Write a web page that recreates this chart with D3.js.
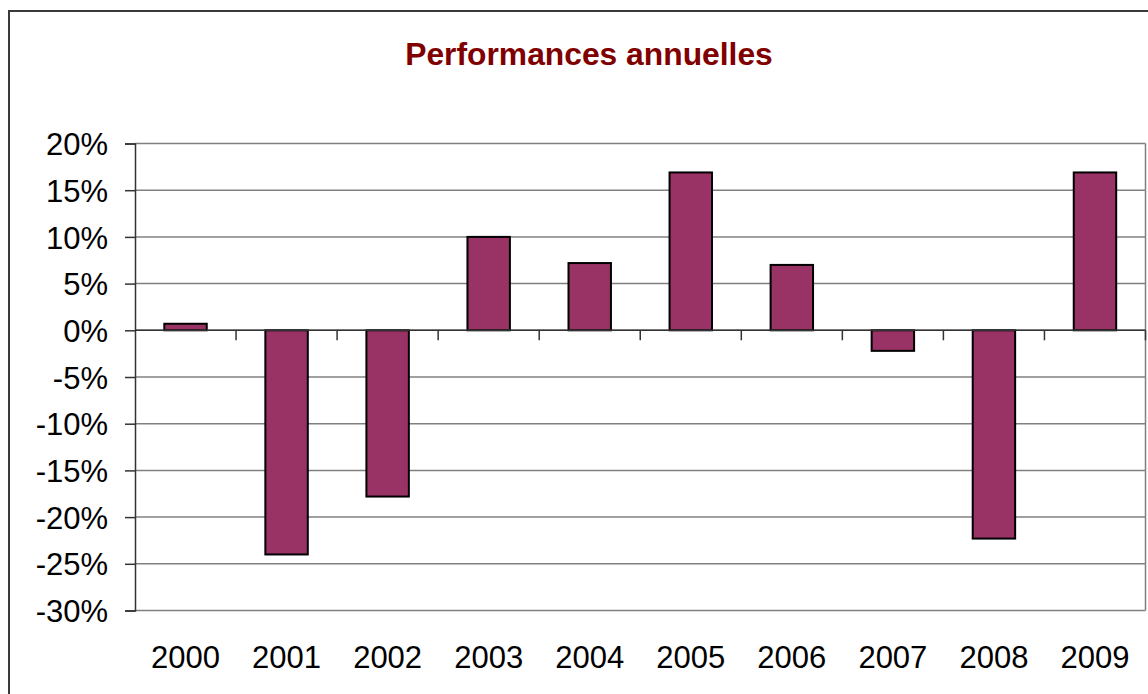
<!DOCTYPE html>
<html>
<head>
<meta charset="utf-8">
<script src="https://cdn.jsdelivr.net/npm/d3@7"></script>
<style>
  body { margin: 0; background: #fff; }
  svg { display: block; }
</style>
</head>
<body>
<div id="chart-area"></div>
<script>
// data
let years = ["2000", "2001", "2002", "2003", "2004", "2005", "2006", "2007", "2008", "2009"];
let perf = [0.007, -0.240, -0.178, 0.100, 0.072, 0.169, 0.070, -0.022, -0.223, 0.169];
let yTicks = [0.20, 0.15, 0.10, 0.05, 0, -0.05, -0.10, -0.15, -0.20, -0.25, -0.30];

let width = 1148,
    height = 694;

let svg = d3.select("#chart-area").append("svg")
    .attr("width", width)
    .attr("height", height);

// outer chart frame (runs off the right and bottom edges)
svg.append("rect")
    .attr("x", 9)
    .attr("y", 11)
    .attr("width", 1200)
    .attr("height", 750)
    .attr("fill", "none")
    .attr("stroke", "#3a3a3a")
    .attr("stroke-width", 2);

// title
svg.append("text")
    .attr("x", 589)
    .attr("y", 65)
    .attr("text-anchor", "middle")
    .attr("font-family", "Liberation Sans, Arial, sans-serif")
    .attr("font-size", 31.8)
    .attr("font-weight", "bold")
    .attr("fill", "#800000")
    .text("Performances annuelles");

let plotLeft = 135, plotRight = 1145.5, plotTop = 143.5, plotBottom = 610.5;

let x = d3.scaleBand()
    .domain(years)
    .range([plotLeft, plotRight])
    .paddingInner(0.58)
    .paddingOuter(0.29);

let y = d3.scaleLinear()
    .domain([-0.30, 0.20])
    .range([plotBottom, plotTop]);

// gridlines
svg.append("g")
  .selectAll("line")
  .data(yTicks)
  .enter().append("line")
    .attr("x1", plotLeft)
    .attr("x2", plotRight)
    .attr("y1", d => y(d))
    .attr("y2", d => y(d))
    .attr("stroke", "#808080")
    .attr("stroke-width", 1.5);

// right edge of plot area
svg.append("line")
    .attr("x1", plotRight).attr("x2", plotRight)
    .attr("y1", plotTop).attr("y2", plotBottom)
    .attr("stroke", "#808080")
    .attr("stroke-width", 1.5);

// y axis, plain hyphen for negatives like the original
let pct = d3.format(".0%");
let yAxis = d3.axisLeft(y)
    .tickValues(yTicks)
    .tickFormat(d => pct(d).replace("\u2212", "-"))
    .tickSize(10)
    .tickPadding(17);

let gy = svg.append("g")
    .attr("transform", `translate(${plotLeft},0)`)
    .call(yAxis);
gy.select(".domain").attr("stroke", "#333").attr("stroke-width", 1.5);
gy.selectAll(".tick line").attr("stroke", "#333").attr("stroke-width", 1.5);
gy.selectAll(".tick text")
    .attr("font-family", "Liberation Sans, Arial, sans-serif")
    .attr("font-size", 31)
    .attr("fill", "#000")
    .attr("dy", "0.36em");

// bars
svg.append("g")
  .selectAll("rect")
  .data(perf)
  .enter().append("rect")
    .attr("x", (d, i) => x(years[i]))
    .attr("width", x.bandwidth())
    .attr("y", d => y(Math.max(0, d)))
    .attr("height", d => Math.abs(y(d) - y(0)))
    .attr("fill", "#993366")
    .attr("stroke", "#000")
    .attr("stroke-width", 2);

// category axis sits on the zero line, ticks between categories
let step = x.step();
let boundaries = d3.range(1, years.length + 1).map(i => plotLeft + i * step);

svg.append("line")
    .attr("x1", plotLeft).attr("x2", plotRight)
    .attr("y1", y(0)).attr("y2", y(0))
    .attr("stroke", "#333")
    .attr("stroke-width", 1.5);

svg.append("g")
  .selectAll("line")
  .data(boundaries)
  .enter().append("line")
    .attr("x1", d => d).attr("x2", d => d)
    .attr("y1", y(0)).attr("y2", y(0) + 10)
    .attr("stroke", "#333")
    .attr("stroke-width", 1.5);

// year labels below the plot
svg.append("g")
  .selectAll("text")
  .data(years)
  .enter().append("text")
    .attr("x", d => x(d) + x.bandwidth() / 2)
    .attr("y", 668)
    .attr("text-anchor", "middle")
    .attr("font-family", "Liberation Sans, Arial, sans-serif")
    .attr("font-size", 31)
    .attr("fill", "#000")
    .text(d => d);
</script>
</body>
</html>
